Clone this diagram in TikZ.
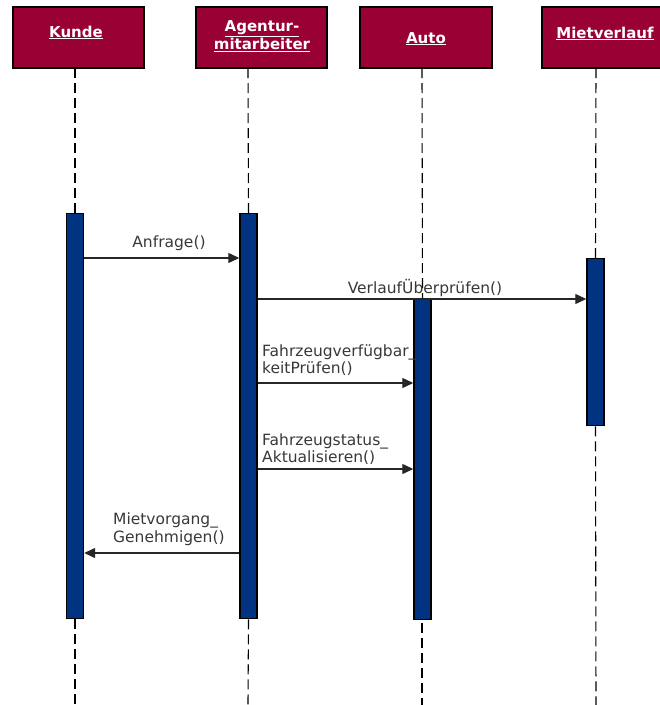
\documentclass[tikz,border=0pt]{standalone}
\usepackage{fontspec}
\setmainfont{DejaVu Sans}
\usetikzlibrary{arrows.meta}
\definecolor{headred}{HTML}{990033}
\definecolor{barblue}{HTML}{003380}
\definecolor{msgtext}{HTML}{383838}
\tikzset{
  headbox/.style={draw=black, line width=1.5pt, fill=headred},
  headtext/.style={text=white, font=\fontsize{15}{17}\selectfont\bfseries, inner sep=0pt, align=center},
  actbar/.style={draw=black, line width=1.4pt, fill=barblue, minimum width=17pt, inner sep=0pt, anchor=north},
  lifeline/.style={draw=black, line width=1.1pt, dash pattern=on 10pt off 5pt},
  msg/.style={draw=black!85, line width=1.2pt, -{Triangle[length=11pt,width=10pt]}},
  msglabel/.style={text=msgtext, font=\fontsize{15.5}{17.5}\selectfont, inner sep=0pt, align=left}
}
\begin{document}
\begin{tikzpicture}[x=1pt, y=-1pt]
\useasboundingbox (0,0) rectangle (660,705);
\clip (0,0) rectangle (660,705);

% participant heads
\draw[headbox] (13,7) rectangle (144,68);
\draw[headbox] (196,7) rectangle (327,68);
\draw[headbox] (360,7) rectangle (492,68);
\draw[headbox] (542,7) rectangle (668,68);
\coordinate (kundeHead) at (75,68);
\coordinate (agentHead) at (248,68);
\coordinate (autoHead) at (422,68);
\coordinate (mietHead) at (596,68);
\node[headtext, anchor=base] (kundeT) at (76,37) {\underline{Kunde}};
\node[headtext] (agentT) at (262,36) {\underline{Agentur-}\\[1pt]\underline{mitarbeiter}};
\node[headtext, anchor=base] (autoT) at (426,43) {\underline{Auto}};
\node[headtext, anchor=base] (mietT) at (605,38) {\underline{Mietverlauf}};

% activation bars
\node[actbar, minimum height=405pt] (kundeBar) at (75,213) {};
\node[actbar, minimum height=405pt] (agentBar) at (248.5,213) {};
\node[actbar, minimum height=321pt] (autoBar) at (422.5,298) {};
\node[actbar, minimum height=167pt] (mietBar) at (595.5,258) {};

% lifelines
\coordinate (kundeEnd) at (75,705);
\coordinate (agentEnd) at (248,705);
\coordinate (autoEnd) at (422,705);
\coordinate (mietEnd) at (596,705);
\coordinate (autoGap) at (422,623);
\draw[lifeline] (kundeHead) -- (kundeBar.north);
\draw[lifeline] (kundeBar.south) -- (kundeEnd);
\draw[lifeline] (agentHead) -- (agentBar.north);
\draw[lifeline] (agentBar.south) -- (agentEnd);
\draw[lifeline] (autoHead) -- (autoBar.north);
\draw[lifeline] (autoGap) -- (autoEnd);
\draw[lifeline] (mietHead) -- (mietBar.north);
\draw[lifeline] (mietBar.south) -- (mietEnd);

% message levels
\coordinate (m1) at (0,258);
\coordinate (m2) at (0,299);
\coordinate (m3) at (0,383);
\coordinate (m4) at (0,469);
\coordinate (m5) at (0,553);

\draw[msg] (kundeBar.east |- m1) -- (agentBar.west |- m1);
\draw[msg] (agentBar.east |- m2) -- (mietBar.west |- m2);
\draw[msg] (agentBar.east |- m3) -- (autoBar.west |- m3);
\draw[msg] (agentBar.east |- m4) -- (autoBar.west |- m4);
\draw[msg] (agentBar.west |- m5) -- (kundeBar.east |- m5);

% message labels
\node[msglabel] (l1) at (169,243) {Anfrage()};
\node[msglabel] (l2) at (425,288) {VerlaufÜberprüfen()};
\node[msglabel, anchor=west] (l3) at (262,360) {Fahrzeugverfügbar\_\\keitPrüfen()};
\node[msglabel, anchor=west] (l4) at (262,449) {Fahrzeugstatus\_\\Aktualisieren()};
\node[msglabel, anchor=west] (l5) at (113,529) {Mietvorgang\_\\Genehmigen()};
\end{tikzpicture}
\end{document}
